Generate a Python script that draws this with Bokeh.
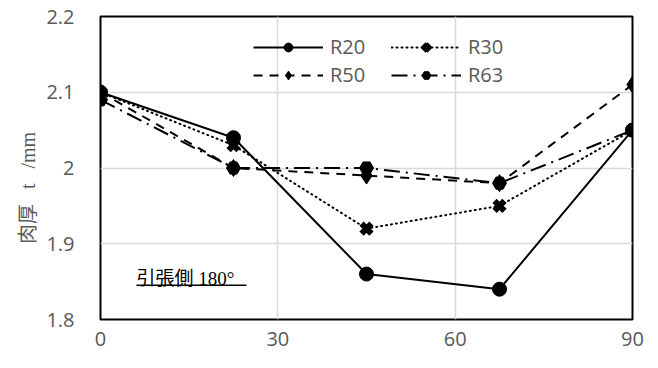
from bokeh.plotting import figure
from bokeh.models import (Range1d, FixedTicker, Legend, LegendItem, Label,
                          BoxAnnotation)
from bokeh.embed import file_html
from bokeh.resources import INLINE

# bending angle position (deg) and wall thickness t (mm) per die radius
angle = [0, 22.5, 45, 67.5, 90]
r20 = [2.10, 2.04, 1.86, 1.84, 2.05]
r30 = [2.10, 2.03, 1.92, 1.95, 2.05]
r50 = [2.10, 2.00, 1.99, 1.98, 2.11]
r63 = [2.09, 2.00, 2.00, 1.98, 2.05]

x_ticks = [0, 30, 60, 90]
y_ticks = [1.8, 1.9, 2.0, 2.1, 2.2]

GRAY = "#595959"
TICK_FONT = "Open Sans"

p = figure(width=658, height=368, output_backend="svg", toolbar_location=None,
           x_range=Range1d(0, 90), y_range=Range1d(1.8, 2.2),
           min_border_left=100, min_border_right=26,
           min_border_top=16, min_border_bottom=49)

p.background_fill_color = "white"
p.border_fill_color = "white"
p.outline_line_color = "black"
p.outline_line_width = 2

p.xaxis.ticker = FixedTicker(ticks=x_ticks)
p.yaxis.ticker = FixedTicker(ticks=y_ticks)
for ax in (p.xaxis[0], p.yaxis[0]):
    ax.axis_line_color = None
    ax.major_tick_line_color = None
    ax.minor_tick_line_color = None
    ax.major_label_text_color = GRAY
    ax.major_label_text_font = TICK_FONT
    ax.major_label_text_font_size = "20px"
p.xaxis.major_label_standoff = 6
p.yaxis.major_label_standoff = 20
p.yaxis.major_label_overrides = {2.0: "2"}

# y-axis title (trailing spaces push the visible text a little lower)
p.yaxis.axis_label = "肉厚\u2002 t \u2002/mm\u3000\u3000"
p.yaxis.axis_label_text_font = "Liberation Serif, Noto Sans CJK JP"
p.yaxis.axis_label_text_font_style = "normal"
p.yaxis.axis_label_text_font_size = "20px"
p.yaxis.axis_label_text_color = GRAY
p.yaxis.axis_label_standoff = 4

p.xgrid.grid_line_color = "#d9d9d9"
p.ygrid.grid_line_color = "#d9d9d9"
p.xgrid.grid_line_width = 1.5
p.ygrid.grid_line_width = 1.5

series = [
    ("R20", r20, dict(line_dash="solid"), dict(marker="circle", size=14)),
    ("R30", r30, dict(line_dash="1 4", line_cap="round"),
     dict(marker="x", size=14, line_width=6)),
    ("R50", r50, dict(line_dash="9 7"), dict(marker="diamond", size=17)),
    ("R63", r63, dict(line_dash="16 6 2 6"), dict(marker="hex", size=14)),
]

items = []
for name, ys, lkw, mkw in series:
    ln = p.line(angle, ys, line_color="black", line_width=2, **lkw)
    mk_size = mkw.pop("size")
    mk_lw = mkw.pop("line_width", 1)
    sc = p.scatter(angle, ys, size=mk_size, fill_color="black",
                   line_color="black", line_width=mk_lw, **mkw)
    items.append(LegendItem(label=name, renderers=[ln, sc]))

legend = Legend(items=items, location=(153, 231), orientation="horizontal",
                ncols=2)
legend.background_fill_alpha = 0
legend.border_line_color = None
legend.glyph_width = 70
legend.glyph_height = 22
legend.label_height = 22
legend.label_width = 60
legend.label_standoff = 7
legend.spacing = 1
legend.padding = 0
legend.margin = 0
legend.label_text_font = TICK_FONT
legend.label_text_font_size = "20px"
legend.label_text_color = GRAY
p.add_layout(legend, "center")

# condition note with underline
p.add_layout(Label(x=36, y=41, x_units="screen", y_units="screen",
                   text="引張側 180°", text_align="left",
                   text_baseline="alphabetic",
                   text_font="Liberation Serif, Noto Sans CJK JP",
                   text_font_size="19px", text_color="black"))
p.add_layout(BoxAnnotation(left=36, right=146, bottom=33.5, top=35,
                           left_units="screen", right_units="screen",
                           bottom_units="screen", top_units="screen",
                           fill_color="black", fill_alpha=1,
                           line_color=None))

open("out.html", "w").write(file_html(p, INLINE))
